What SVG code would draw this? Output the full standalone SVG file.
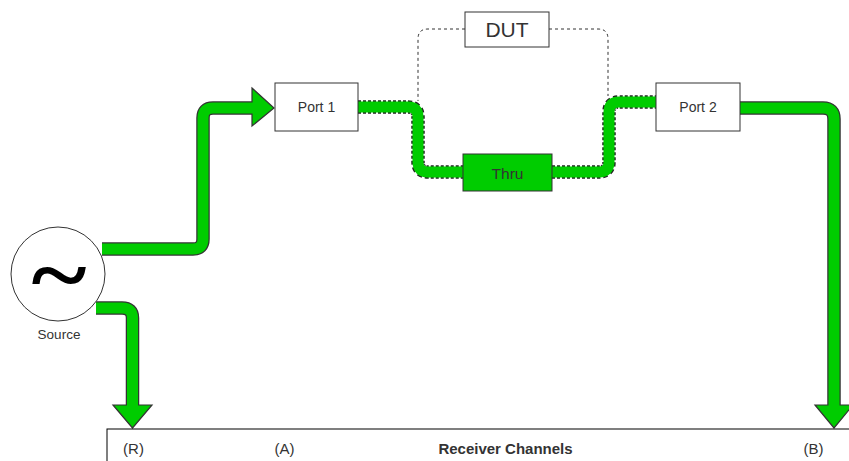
<svg xmlns="http://www.w3.org/2000/svg" width="849" height="461" viewBox="0 0 849 461">
<style>
.box{fill:#fff;stroke:#333;stroke-width:1}
.lbl{font-family:"Liberation Sans",Arial,sans-serif;fill:#333;text-anchor:middle}
.out{fill:none;stroke:#333;stroke-width:13.5}
.in{fill:none;stroke:#00CC00;stroke-width:11}
.outd{fill:none;stroke:#222;stroke-width:13.5;stroke-dasharray:3 2}
.head{fill:#00CC00;stroke:#333;stroke-width:1.2;stroke-linejoin:miter}
.dash{fill:none;stroke:#333;stroke-width:1;stroke-dasharray:3 3}
</style>
<g id="connectors">
  <path class="dash" d="M465,29 H428 Q418,29 418,39 V101"/>
  <path class="dash" d="M549,29 H598 Q608,29 608,39 V96"/>
  <path class="out" d="M102,249 H193 Q203,249 203,239 V118 Q203,108 213,108 H252"/>
  <polygon class="head" points="252,88 274,108 252,126"/>
  <path class="in" d="M102,249 H193 Q203,249 203,239 V118 Q203,108 213,108 H254"/>
  <path class="outd" d="M358,107 H408 Q418,107 418,117 V162 Q418,172 428,172 H463"/>
  <path class="in" d="M358,107 H408 Q418,107 418,117 V162 Q418,172 428,172 H463"/>
  <path class="outd" d="M552,172 H599 Q609,172 609,162 V112 Q609,102 619,102 H656"/>
  <path class="in" d="M552,172 H599 Q609,172 609,162 V112 Q609,102 619,102 H656"/>
  <path class="out" d="M740,108 H823 Q834,108 834,119 V406"/>
  <polygon class="head" points="815,405 834,428 853,405"/>
  <path class="in" d="M740,108 H823 Q834,108 834,119 V407"/>
  <path class="out" d="M96,308 H122 Q132.5,308 132.5,318 V406"/>
  <polygon class="head" points="113,405 132.5,428 152,405"/>
  <path class="in" d="M96,308 H122 Q132.5,308 132.5,318 V407"/>
</g>
<g id="source">
  <circle cx="58" cy="274" r="47" fill="#fff" stroke="#333" stroke-width="1"/>
  <text transform="translate(59,305) scale(1.15,1)" x="0" y="0" font-family="Liberation Serif,serif" font-weight="bold" font-size="92" text-anchor="middle" fill="#000">~</text>
  <text class="lbl" x="59" y="339" font-size="13.5">Source</text>
</g>
<g id="port1">
  <rect class="box" x="275" y="83" width="83" height="48"/>
  <text class="lbl" x="316.5" y="112" font-size="14">Port 1</text>
</g>
<g id="dut">
  <rect class="box" x="465" y="12" width="84" height="35"/>
  <text class="lbl" x="507" y="36.5" font-size="21">DUT</text>
</g>
<g id="thru">
  <rect x="463" y="154" width="89" height="37" fill="#00CC00" stroke="#333" stroke-width="1"/>
  <text class="lbl" x="507.5" y="179" font-size="15.5">Thru</text>
</g>
<g id="port2">
  <rect class="box" x="656" y="83" width="84" height="48"/>
  <text class="lbl" x="698" y="112" font-size="14">Port 2</text>
</g>
<g id="receiver">
  <rect x="107" y="429" width="770" height="60" fill="#fff" stroke="#000" stroke-width="1"/>
  <text class="lbl" x="133.5" y="454" font-size="15">(R)</text>
  <text class="lbl" x="284.5" y="454" font-size="15">(A)</text>
  <text class="lbl" x="505.5" y="454" font-size="15" font-weight="bold">Receiver Channels</text>
  <text class="lbl" x="813.5" y="454" font-size="15">(B)</text>
</g>
</svg>
